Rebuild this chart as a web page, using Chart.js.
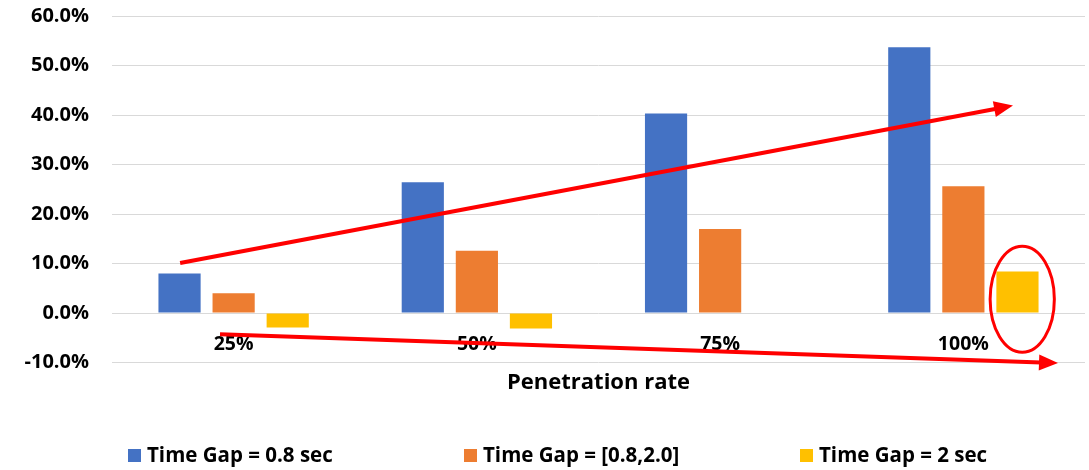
<!DOCTYPE html>
<html>
<head>
<meta charset="utf-8">
<script src="https://cdn.jsdelivr.net/npm/chart.js@4.4.1/dist/chart.umd.min.js"></script>
<style>
  html, body { margin: 0; padding: 0; background: #ffffff; }
  #wrap { width: 1089px; height: 470px; }
</style>
</head>
<body>
<div id="wrap"><canvas id="chart" width="1089" height="470"></canvas></div>
<script>
// Penetration rate categories
const categories = ['25%', '50%', '75%', '100%'];

// Change (%) for each time-gap setting
const gap08 = [8.0, 26.4, 40.3, 53.7];
const gapRange = [4.0, 12.6, 17.0, 25.6];
const gap2 = [-2.9, -3.1, -0.1, 8.4];

const seriesLabels = ['Time Gap = 0.8 sec', 'Time Gap = [0.8,2.0]', 'Time Gap = 2 sec'];
const seriesColors = ['#4472C4', '#ED7D31', '#FFC000'];

// Y axis range and step (percent)
const yMin = -10;
const yMax = 60;
const yStep = 10;

// Trend arrows in data space: [category index, percent]
const trendArrows = [
  { from: [-0.22, 10.1], to: [3.204, 41.9] },
  { from: [-0.056, -4.25], to: [3.389, -10.1] }
];
// Highlight ring around the 100% / 2 sec bar: centre [index, percent], radii [index units, percent]
const highlightRing = { center: [3.242, 2.8], radius: [0.132, 10.7] };

const FONT = '"Open Sans", Lato, "Liberation Sans", sans-serif';

// Category labels drawn just under the zero line
const categoryLabelPlugin = {
  id: 'categoryLabels',
  afterDatasetsDraw(chart) {
    const { ctx, scales: { x, y } } = chart;
    const baseY = y.getPixelForValue(0) + 31;
    ctx.save();
    ctx.font = 'bold 19.5px ' + FONT;
    ctx.fillStyle = '#000000';
    ctx.textAlign = 'center';
    ctx.textBaseline = 'middle';
    categories.forEach((c, i) => ctx.fillText(c, x.getPixelForValue(i), baseY));
    ctx.restore();
  }
};

// Red trend arrows and the highlight ring
const annotationPlugin = {
  id: 'trendAnnotations',
  afterDatasetsDraw(chart) {
    const { ctx, scales: { x, y } } = chart;
    const px = (p) => [x.getPixelForValue(p[0]), y.getPixelForValue(p[1])];
    ctx.save();
    ctx.strokeStyle = '#FF0000';
    ctx.fillStyle = '#FF0000';
    trendArrows.forEach(a => {
      const [x0, y0] = px(a.from);
      const [x1, y1] = px(a.to);
      const ang = Math.atan2(y1 - y0, x1 - x0);
      const headLen = 19, headHalf = 8;
      const bx = x1 - headLen * Math.cos(ang);
      const by = y1 - headLen * Math.sin(ang);
      ctx.lineWidth = 4;
      ctx.lineCap = 'butt';
      ctx.beginPath();
      ctx.moveTo(x0, y0);
      ctx.lineTo(bx + 2 * Math.cos(ang), by + 2 * Math.sin(ang));
      ctx.stroke();
      ctx.beginPath();
      ctx.moveTo(x1, y1);
      ctx.lineTo(bx - headHalf * Math.sin(ang), by + headHalf * Math.cos(ang));
      ctx.lineTo(bx + headHalf * Math.sin(ang), by - headHalf * Math.cos(ang));
      ctx.closePath();
      ctx.fill();
    });
    const [cx, cy] = px(highlightRing.center);
    const rx = Math.abs(x.getPixelForValue(highlightRing.center[0] + highlightRing.radius[0]) - cx);
    const ry = Math.abs(y.getPixelForValue(highlightRing.center[1] + highlightRing.radius[1]) - cy);
    ctx.lineWidth = 3;
    ctx.beginPath();
    ctx.ellipse(cx, cy, rx, ry, 0, 0, Math.PI * 2);
    ctx.stroke();
    ctx.restore();
  }
};

// Bottom legend with evenly spaced slots
const slotLegendPlugin = {
  id: 'slotLegend',
  afterDraw(chart) {
    const { ctx, chartArea } = chart;
    const slot = 336;
    const startX = chartArea.left + 16;
    const cy = 456;
    ctx.save();
    ctx.font = 'bold 20.5px ' + FONT;
    ctx.textBaseline = 'middle';
    ctx.textAlign = 'left';
    chart.data.datasets.forEach((ds, i) => {
      const x0 = startX + i * slot;
      ctx.fillStyle = ds.backgroundColor;
      ctx.fillRect(x0, cy - 7, 13, 13);
      ctx.fillStyle = '#000000';
      ctx.fillText(ds.label, x0 + 19, cy);
    });
    ctx.restore();
  }
};

const seriesValues = [gap08, gapRange, gap2];

new Chart(document.getElementById('chart'), {
  type: 'bar',
  data: {
    labels: categories,
    datasets: seriesValues.map((vals, i) => ({
      label: seriesLabels[i],
      data: vals,
      backgroundColor: seriesColors[i],
      borderWidth: 0,
      categoryPercentage: 0.667,
      barPercentage: 0.78
    }))
  },
  options: {
    responsive: false,
    animation: false,
    devicePixelRatio: 1,
    layout: { padding: { left: 0, right: 4, top: 16, bottom: 74 } },
    plugins: {
      legend: { display: false },
      tooltip: { enabled: false }
    },
    scales: {
      x: {
        grid: { display: false, drawTicks: false },
        border: { display: false },
        ticks: { display: false },
        title: {
          display: true,
          text: 'Penetration rate',
          color: '#000000',
          font: { family: FONT, size: 22, weight: 'bold' },
          padding: { top: 7, bottom: 0 }
        }
      },
      y: {
        min: yMin,
        max: yMax,
        afterFit(scale) {
          scale.width = 112;
          scale.paddingTop = 0;
          scale.paddingBottom = 0;
        },
        ticks: {
          stepSize: yStep,
          padding: 23,
          color: '#000000',
          font: { family: FONT, size: 20, weight: 'bold' },
          callback: (v) => v.toFixed(1) + '%'
        },
        grid: { color: '#D9D9D9', lineWidth: 1, drawTicks: false },
        border: { display: false }
      }
    }
  },
  plugins: [categoryLabelPlugin, annotationPlugin, slotLegendPlugin]
});
</script>
</body>
</html>
